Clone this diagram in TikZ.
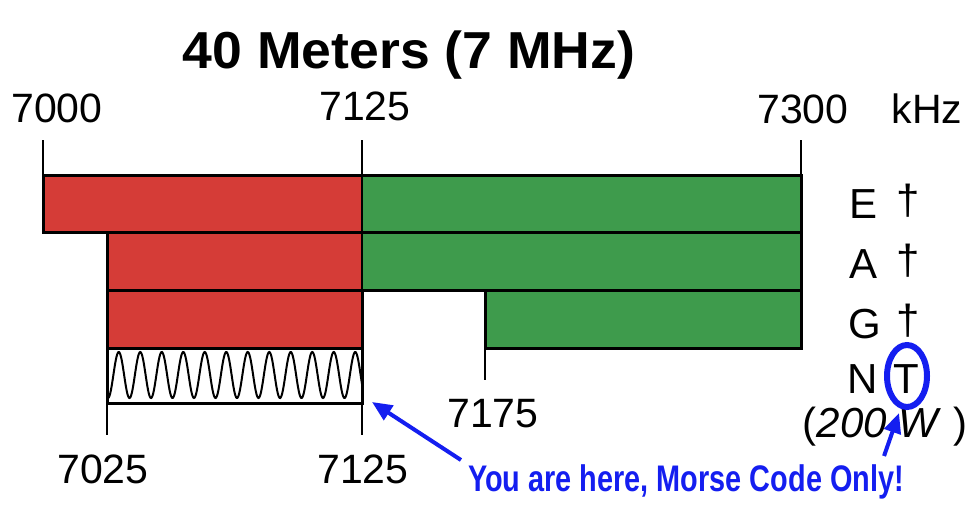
\documentclass[tikz,border=0pt]{standalone}
\usepackage{fontspec}
\setmainfont{Liberation Sans}
\newfontfamily\narrowfont[FakeStretch=0.78]{Liberation Sans}
\newfontfamily\widefont[FakeStretch=1.03]{Liberation Sans}
\usetikzlibrary{arrows.meta}
\definecolor{bandred}{RGB}{213,60,55}
\definecolor{bandgreen}{RGB}{62,155,76}
\definecolor{markblue}{RGB}{20,30,240}
\begin{document}
\begin{tikzpicture}[x=1pt, y=-1pt,
  freq/.style={font=\fontsize{41}{41}\selectfont, inner sep=0pt, anchor=base},
  lic/.style={font=\fontsize{42}{42}\selectfont, inner sep=0pt, anchor=base},
  band/.style={draw=black, line width=3pt},
  tick/.style={line width=2.5pt},
  note/.style={text=markblue, font=\narrowfont\bfseries\fontsize{37}{37}\selectfont, inner sep=0pt, anchor=base},
  pointer/.style={-{Triangle[length=20pt,width=17pt]}, draw=markblue, fill=markblue, line width=4pt}]
\useasboundingbox (0,0) rectangle (980,509);

% title
\node (title) [font=\widefont\bfseries\fontsize{52}{52}\selectfont, inner sep=0pt, anchor=base] at (409,68) {40 Meters (7 MHz)};

% band rows
\fill[bandred] (43,175) rectangle (362,232);
\fill[bandgreen] (362,175) rectangle (801,232);
\fill[bandred] (107,232) rectangle (362,290);
\fill[bandgreen] (362,232) rectangle (801,290);
\fill[bandred] (107,290) rectangle (362,348);
\fill[bandgreen] (485,290) rectangle (801,348);
\draw[band] (43,175) rectangle (801,232);
\draw[band] (107,232) rectangle (801,290);
\draw[band] (107,290) rectangle (362,348);
\draw[band] (485,290) rectangle (801,348);
\draw[band] (107,348) rectangle (362,403);

% CW-only wave
\draw[line width=2pt] plot[domain=107:362, samples=400] (\x, {375+23*cos(16.744*(\x-108))});

% ticks
\draw[tick] (43,140) -- (43,232);
\draw[tick] (362,140) -- (362,435);
\draw[tick] (801,140) -- (801,348);
\draw[tick] (107,232) -- (107,435);
\draw[tick] (485,290) -- (485,380);

% frequencies
\node (f7000) [freq] at (57,122) {7000};
\node (f7125) [freq] at (365,120) {7125};
\node (f7300) [freq] at (803,123) {7300};
\node (khz) [freq] at (927,123) {kHz};
\node (f7175) [freq] at (493,427) {7175};
\node (f7025) [freq] at (103,483) {7025};
\node (f7125b) [freq] at (363,483) {7125};

% license classes
\node (clsE) [lic] at (863,218) {E};
\node (dagE) [lic] at (908,214) {\textdagger};
\node (clsA) [lic] at (863,278) {A};
\node (dagA) [lic] at (908,274) {\textdagger};
\node (clsG) [lic] at (865,338) {G};
\node (dagG) [lic] at (908,334) {\textdagger};
\node (clsN) [lic] at (863,393) {N};
\node (clsT) [lic] at (906,393) {T};
\node (power) [lic] at (885,437) {(\textit{200\ W}\ )};

% annotation
\draw[markblue, line width=6pt] (907,376) ellipse (20 and 31);
\coordinate (ring) at (899,413);
\coordinate (here) at (372,402);
\node (note) [note] at (686,491) {You are here, Morse Code Only!};
\draw[pointer] ([xshift=-7pt,yshift=4pt]note.north west) -- (here);
\draw[pointer] ([xshift=-20pt,yshift=8pt]note.north east) -- (ring);
\end{tikzpicture}
\end{document}
